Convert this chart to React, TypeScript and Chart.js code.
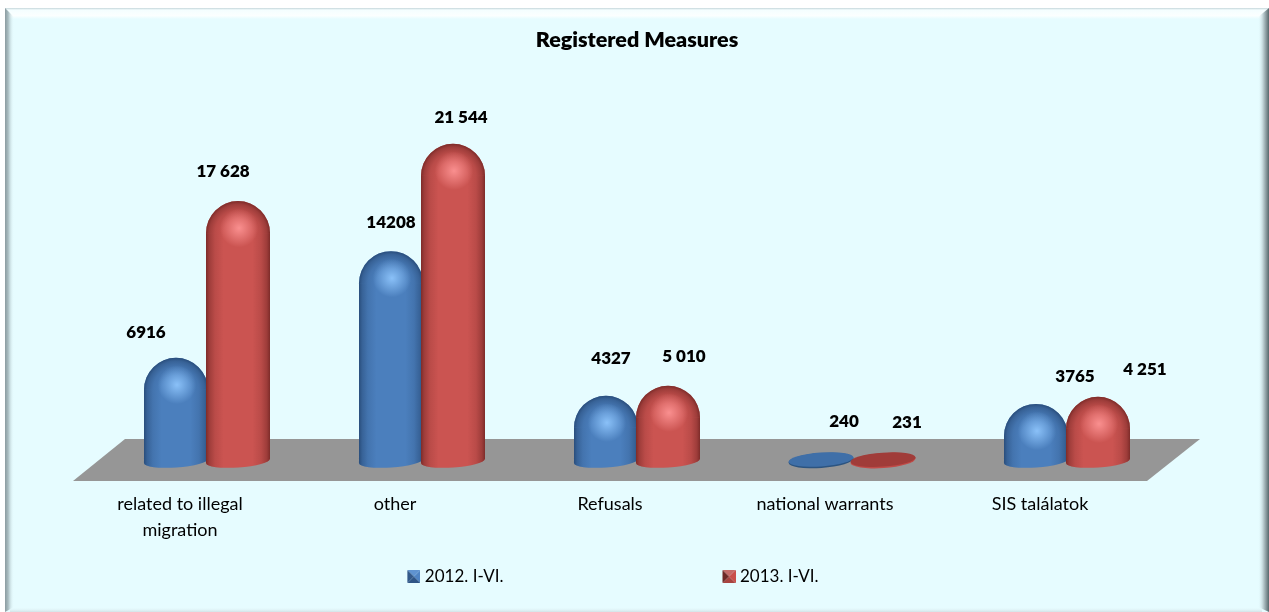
import React, { useEffect, useRef } from "react";
import { Chart, registerables } from "chart.js";

Chart.register(...registerables);

const categories = [["related to illegal", "migration"], "other", "Refusals", "national warrants", "SIS találatok"];
const series2012 = [6916, 14208, 4327, 240, 3765];
const series2013 = [17628, 21544, 5010, 231, 4251];
const labels2012 = ["6916", "14208", "4327", "240", "3765"];
const labels2013 = ["17 628", "21 544", "5 010", "231", "4 251"];
const seriesNames = ["2012. I-VI.", "2013. I-VI."];
const titleText = "Registered Measures";

// hand placed label offsets from each bar's top, as in the original
const labelShift2012 = [[-30, -25], [0, -29], [5, -37], [23, -34], [39, -27]];
const labelShift2013 = [[-15, -30], [8, -26], [16, -29], [24, -33], [47, -27]];

const FONT = "Lato, Carlito, 'Open Sans', sans-serif";
const W = 1269;
const H = 612;
const LEGEND_GAP = 215;

const palette = [
  { base: "#4b7fbd", glow: "rgba(145,200,255,", dark: "rgba(28,58,98,", disc: "#3f6fa8", discEdge: "#2c5480" },
  { base: "#cb5451", glow: "rgba(255,150,150,", dark: "rgba(95,28,26,", disc: "#a03c39", discEdge: "#c04a47" },
];

function legendIcon(i: number) {
  const off = 8;
  const c = document.createElement("canvas");
  c.width = 13 + off;
  c.height = 13;
  const g = c.getContext("2d")!;
  const colors = i === 0
    ? ["#5f93d0", "#4f84c4", "#2f5586", "#33598a"]
    : ["#c46a68", "#c9504c", "#a84340", "#6e2826"];
  const tri = (ax: number, ay: number, bx: number, by: number, col: string) => {
    g.fillStyle = col;
    g.beginPath();
    g.moveTo(off + ax, ay);
    g.lineTo(off + bx, by);
    g.lineTo(off + 6.5, 6.5);
    g.closePath();
    g.fill();
  };
  tri(0, 0, 13, 0, colors[0]);
  tri(13, 0, 13, 13, colors[1]);
  tri(13, 13, 0, 13, colors[2]);
  tri(0, 13, 0, 0, colors[3]);
  return c;
}

const framePlugin = {
  id: "frame",
  beforeDraw(chart: any) {
    const ctx = chart.ctx;
    const L = 5, T = 8, R = W, B = 612;
    ctx.save();
    ctx.fillStyle = "#ffffff";
    ctx.fillRect(0, 0, W, H);
    ctx.fillStyle = "#e6fcff";
    ctx.fillRect(L, T, R - L, B - T);
    let g = ctx.createLinearGradient(0, T, 0, T + 11);
    g.addColorStop(0, "#c5d6da");
    g.addColorStop(0.18, "#f4feff");
    g.addColorStop(0.7, "#fbffff");
    g.addColorStop(1, "#e6fcff");
    ctx.fillStyle = g;
    ctx.fillRect(L, T, R - L, 11);
    g = ctx.createLinearGradient(L, 0, L + 9, 0);
    g.addColorStop(0, "#8b9ba0");
    g.addColorStop(0.35, "#a9bcc0");
    g.addColorStop(1, "rgba(230,252,255,0)");
    ctx.fillStyle = g;
    ctx.beginPath();
    ctx.moveTo(L, T);
    ctx.lineTo(L + 9, T + 9);
    ctx.lineTo(L + 9, B - 5);
    ctx.lineTo(L, B);
    ctx.closePath();
    ctx.fill();
    g = ctx.createLinearGradient(R - 11, 0, R, 0);
    g.addColorStop(0, "rgba(230,252,255,0)");
    g.addColorStop(0.5, "#b7c9cd");
    g.addColorStop(1, "#58686c");
    ctx.fillStyle = g;
    ctx.beginPath();
    ctx.moveTo(R, T);
    ctx.lineTo(R - 11, T + 9);
    ctx.lineTo(R - 11, B - 5);
    ctx.lineTo(R, B);
    ctx.closePath();
    ctx.fill();
    g = ctx.createLinearGradient(0, B - 5, 0, B);
    g.addColorStop(0, "rgba(230,252,255,0)");
    g.addColorStop(1, "#d3e2e6");
    ctx.fillStyle = g;
    ctx.fillRect(L + 5, B - 5, R - L - 12, 5);
    ctx.restore();
  },
};

function drawDisc(ctx: any, el: any, i: number) {
  const p = palette[i];
  const cx = el.x;
  const cy = el.y + 4;
  ctx.save();
  ctx.fillStyle = p.discEdge;
  ctx.beginPath();
  ctx.ellipse(cx, cy + 1, el.width / 2 + 1.5, 7.5, -0.07, 0, Math.PI * 2);
  ctx.fill();
  ctx.fillStyle = p.disc;
  ctx.beginPath();
  ctx.ellipse(cx, cy, el.width / 2 + 1.5, 7, -0.07, 0, Math.PI * 2);
  ctx.fill();
  ctx.restore();
}

function addShade(g: any, p: any, stops: number[][]) {
  stops.forEach(([o, a]) => g.addColorStop(o, p.dark + a + ")"));
}

function drawCapsule(ctx: any, el: any, i: number) {
  const p = palette[i];
  const r = el.width / 2 + 1;
  const cx = el.x;
  const top = el.y;
  const domeY = top + r;
  const yb = el.base - 6;
  ctx.save();
  ctx.beginPath();
  ctx.moveTo(cx - r, yb + 2);
  ctx.lineTo(cx - r, domeY);
  ctx.arc(cx, domeY, r, Math.PI, 0, false);
  ctx.lineTo(cx + r, yb - 2);
  ctx.ellipse(cx, yb, r, 6.5, -0.07, 0, Math.PI, false);
  ctx.closePath();
  ctx.clip();

  ctx.fillStyle = p.base;
  ctx.fillRect(cx - r - 1, top - 1, 2 * r + 2, el.base - top + 3);

  // the same shading profile across the shaft and around the dome, so they join without a seam
  const profile = [[0.45, 0], [0.72, 0.16], [0.9, 0.42], [1, 0.72]];
  const ring = ctx.createRadialGradient(cx, domeY, 0, cx, domeY, r);
  addShade(ring, p, profile);
  ctx.fillStyle = ring;
  ctx.fillRect(cx - r - 1, top - 1, 2 * r + 2, r + 1);

  const shaft = ctx.createLinearGradient(cx - r, 0, cx + r, 0);
  addShade(shaft, p, [...profile.map(([o, a]) => [(1 - o) / 2, a]).reverse(), ...profile.map(([o, a]) => [(1 + o) / 2, a])]);
  ctx.fillStyle = shaft;
  ctx.fillRect(cx - r - 1, domeY, 2 * r + 2, el.base - domeY + 3);

  const glow = ctx.createRadialGradient(cx + 1, domeY - 5, 0, cx + 1, domeY - 5, r * 0.6);
  glow.addColorStop(0, p.glow + "0.9)");
  glow.addColorStop(0.5, p.glow + "0.45)");
  glow.addColorStop(1, p.glow + "0)");
  ctx.fillStyle = glow;
  ctx.fillRect(cx - r, top, 2 * r, 2 * r);
  ctx.restore();
}

const capsulePlugin = {
  id: "capsules",
  beforeDatasetsDraw(chart: any) {
    const ctx = chart.ctx;
    const x = chart.chartArea;
    const zero = chart.scales.y.getPixelForValue(0);
    ctx.save();
    ctx.fillStyle = "#969696";
    ctx.beginPath();
    ctx.moveTo(x.left + 25.5, zero - 20);
    ctx.lineTo(x.right + 25.5, zero - 20);
    ctx.lineTo(x.right - 27.5, zero + 22);
    ctx.lineTo(x.left - 26.5, zero + 22);
    ctx.closePath();
    ctx.fill();
    ctx.restore();
  },
  beforeDatasetDraw() {
    return false;
  },
  afterDatasetsDraw(chart: any) {
    const ctx = chart.ctx;
    [0, 1].forEach((d) => {
      chart.getDatasetMeta(d).data.forEach((el: any) => {
        if (el.base - el.y < 32) drawDisc(ctx, el, d);
        else drawCapsule(ctx, el, d);
      });
    });
    const texts = [labels2012, labels2013];
    const shifts = [labelShift2012, labelShift2013];
    ctx.save();
    ctx.fillStyle = "#000000";
    ctx.font = `800 17px ${FONT}`;
    ctx.textAlign = "center";
    ctx.textBaseline = "middle";
    [0, 1].forEach((d) => {
      chart.getDatasetMeta(d).data.forEach((el: any, i: number) => {
        ctx.fillText(texts[d][i], el.x + shifts[d][i][0], el.y + shifts[d][i][1]);
      });
    });
    ctx.restore();
  },
};

const layoutPlugin = {
  id: "legendLayout",
  beforeLayout(chart: any) {
    const l = chart.legend;
    if (l && !l.__patched) {
      const fit = l.fit.bind(l);
      l.fit = () => {
        fit();
        l.height = 40;
      };
      l.__patched = true;
    }
  },
  afterLayout(chart: any) {
    const l = chart.legend;
    l.top = 577 - LEGEND_GAP - 9;
    l.left -= 26;
    l.right -= 26;
  },
};

export default function App() {
  const ref = useRef<HTMLCanvasElement>(null);
  useEffect(() => {
    const chart = new Chart(ref.current!, {
      type: "bar",
      data: {
        labels: categories as any,
        datasets: [
          { label: seriesNames[0], data: series2012, backgroundColor: palette[0].base, base: -547 } as any,
          { label: seriesNames[1], data: series2013, backgroundColor: palette[1].base, base: -547 } as any,
        ],
      },
      plugins: [framePlugin, capsulePlugin, layoutPlugin],
      options: {
        responsive: false,
        animation: false,
        events: [],
        layout: { padding: { left: 99.5, right: 94.5, top: 0, bottom: 0 } },
        datasets: { bar: { barPercentage: 1, categoryPercentage: 0.577 } },
        plugins: {
          tooltip: { enabled: false },
          title: {
            display: true,
            text: titleText,
            color: "#000000",
            font: { family: FONT, size: 21.5, weight: 800, lineHeight: 1.2 },
            padding: { top: 27, bottom: 40.45 },
          },
          legend: {
            display: true,
            position: "bottom",
            labels: {
              color: "#000000",
              font: { family: FONT, size: 17 },
              padding: LEGEND_GAP,
              boxWidth: 13,
              boxHeight: 13,
              usePointStyle: true,
              generateLabels: () =>
                seriesNames.map((text, i) => ({
                  text,
                  datasetIndex: i,
                  pointStyle: legendIcon(i),
                  fontColor: "#000000",
                  lineWidth: 0,
                })),
            },
          },
        },
        scales: {
          x: {
            grid: { display: false },
            border: { display: false },
            afterFit(scale: any) {
              scale.height = 105;
            },
            ticks: {
              color: "#000000",
              font: { family: FONT, size: 18, lineHeight: 1.44 },
              padding: 16,
              labelOffset: -27,
              maxRotation: 0,
              autoSkip: false,
            },
          },
          y: { display: false, min: -547, max: 25000 },
        },
      } as any,
    });
    return () => chart.destroy();
  }, []);
  return (
    <canvas
      ref={ref}
      width={W}
      height={H}
      style={{ position: "absolute", left: 0, top: 0, display: "block", width: W, height: H }}
    />
  );
}
